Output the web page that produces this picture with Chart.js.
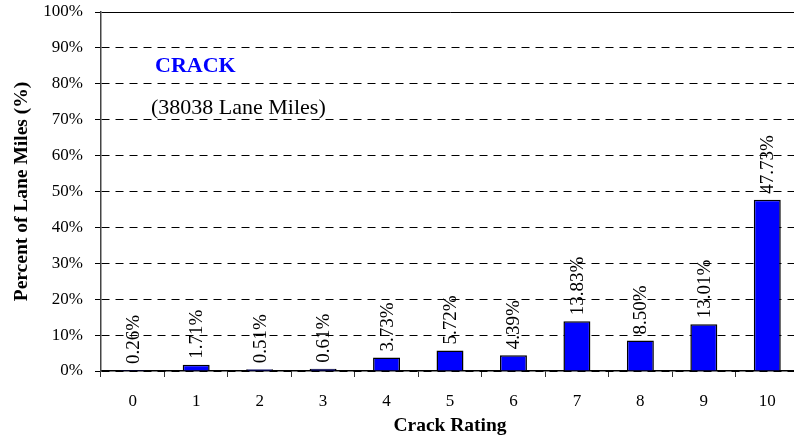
<!DOCTYPE html>
<html lang="en">
<head>
<meta charset="UTF-8">
<title>Crack Rating</title>
<script src="https://cdn.jsdelivr.net/npm/chart.js@4.4.1/dist/chart.umd.min.js"></script>
<style>
  html, body { margin: 0; padding: 0; background: #fff; overflow: hidden; }
  /* the plot runs a few pixels past the right edge of the picture, so the canvas is a bit wider and cropped */
  #wrap { width: 794px; height: 448px; overflow: hidden; }
</style>
</head>
<body>
<div id="wrap"><canvas id="chart" width="800" height="448"></canvas></div>
<script>
const categories = ['0', '1', '2', '3', '4', '5', '6', '7', '8', '9', '10'];
const percents = [0.26, 1.71, 0.51, 0.61, 3.73, 5.72, 4.39, 13.83, 8.50, 13.01, 47.73];
const yTicks = [0, 10, 20, 30, 40, 50, 60, 70, 80, 90, 100];

const serif = '"Liberation Serif", "Times New Roman", serif';

// value labels written sideways above each bar
const barLabels = {
  id: 'barLabels',
  afterDatasetsDraw(chart) {
    const ctx = chart.ctx;
    const meta = chart.getDatasetMeta(0);
    ctx.save();
    ctx.font = '19px ' + serif;
    ctx.fillStyle = '#000';
    ctx.textAlign = 'left';
    ctx.textBaseline = 'middle';
    meta.data.forEach((bar, i) => {
      ctx.save();
      ctx.translate(bar.x + 1, bar.y - 6);
      ctx.rotate(-Math.PI / 2);
      ctx.fillText(percents[i].toFixed(2) + '%', 0, 0);
      ctx.restore();
    });
    ctx.restore();
  }
};

// the two lines of text in the upper left of the plot
const notes = {
  id: 'notes',
  afterDraw(chart) {
    const ctx = chart.ctx;
    const a = chart.chartArea;
    ctx.save();
    ctx.textBaseline = 'middle';
    ctx.textAlign = 'left';
    ctx.font = 'bold 22px ' + serif;
    ctx.fillStyle = '#0000ff';
    ctx.fillText('CRACK', a.left + 54, 66);
    ctx.font = '22px ' + serif;
    ctx.fillStyle = '#000';
    ctx.fillText('(38038 Lane Miles)', a.left + 50, 108);
    ctx.restore();
  }
};

new Chart(document.getElementById('chart'), {
  type: 'bar',
  data: {
    labels: categories,
    datasets: [{
      data: percents,
      backgroundColor: '#0000ff',
      borderColor: '#000',
      borderWidth: 1.5,
      barPercentage: 0.85,
      categoryPercentage: 0.5
    }]
  },
  options: {
    responsive: false,
    animation: false,
    layout: { padding: { top: 12, right: 1, left: 0, bottom: 0 } },
    plugins: {
      legend: { display: false },
      tooltip: { enabled: false }
    },
    scales: {
      x: {
        afterFit(s) { s.height = 77; s.paddingLeft = 0; s.paddingRight = 0; },
        grid: {
          offset: true,
          drawOnChartArea: false,
          drawTicks: true,
          tickLength: 6,
          color: '#333'
        },
        border: { color: '#000', width: 1.5 },
        ticks: {
          color: '#000',
          font: { family: serif, size: 17 },
          padding: 14
        },
        title: {
          display: true,
          text: 'Crack Rating',
          color: '#000',
          font: { family: serif, size: 19.5, weight: 'bold' },
          padding: { top: 0, bottom: 10 }
        }
      },
      y: {
        min: 0,
        max: 100,
        afterFit(s) { s.width = 101; s.paddingTop = 0; s.paddingBottom = 0; },
        afterBuildTicks(s) { s.ticks = yTicks.map(v => ({ value: v })); },
        grid: {
          color: '#000',
          lineWidth: 1,
          tickLength: 6
        },
        border: {
          color: '#444',
          width: 1.5,
          dash: ctx => (ctx.tick && ctx.tick.value === 100) ? [] : [8, 6]
        },
        ticks: {
          color: '#000',
          font: { family: serif, size: 17 },
          padding: 12,
          callback: v => v + '%'
        },
        title: {
          display: true,
          text: 'Percent of Lane Miles (%)',
          color: '#000',
          font: { family: serif, size: 19.5, weight: 'bold' },
          padding: { top: 10, bottom: 0 }
        }
      }
    }
  },
  plugins: [barLabels, notes]
});
</script>
</body>
</html>
